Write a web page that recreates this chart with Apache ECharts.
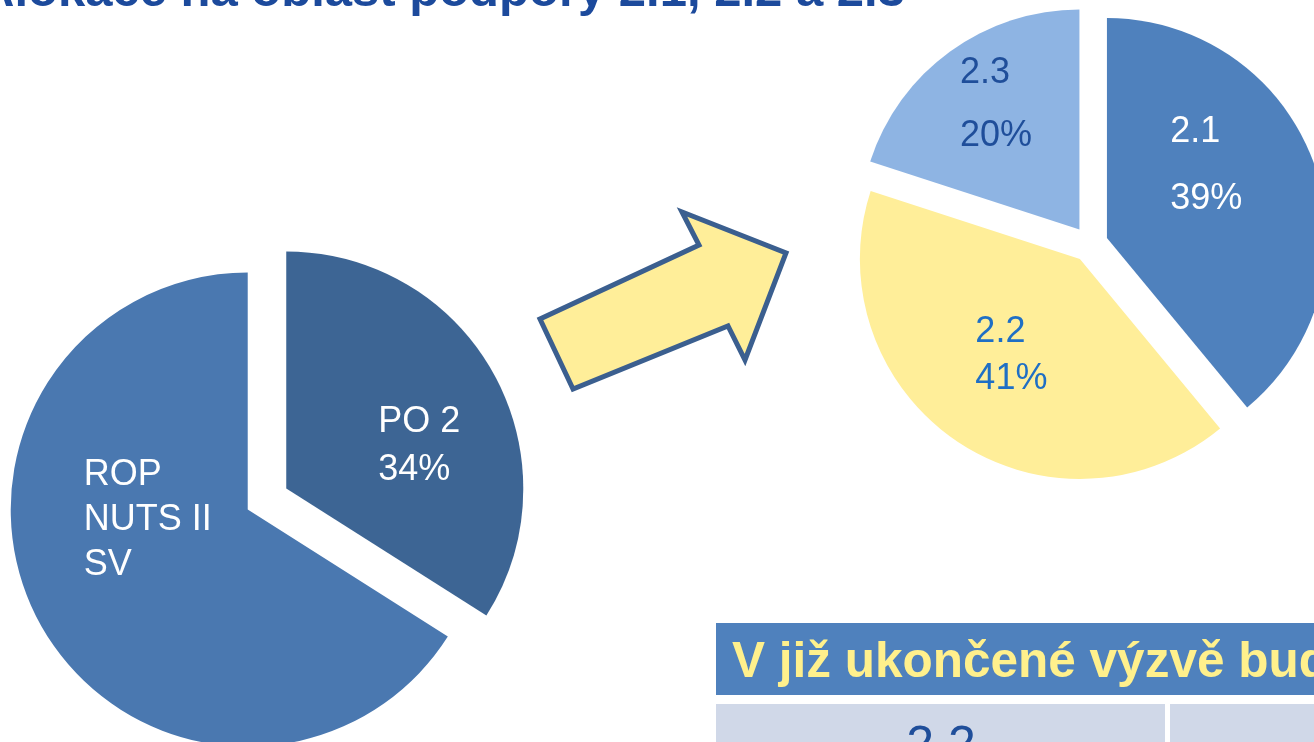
<!DOCTYPE html>
<html>
<head>
<meta charset="utf-8">
<script src="https://cdn.jsdelivr.net/npm/echarts@6/dist/echarts.min.js"></script>
<style>
  html, body { margin: 0; padding: 0; background: #fff; }
  #chart { width: 1314px; height: 742px; }
</style>
</head>
<body>
<div id="chart"></div>
<script>
// slide title (cut at top) and table text
const titleText = 'Alokace na oblast podpory 2.1, 2.2 a 2.3';
const tableHeader = 'V již ukončené výzvě budou';
const tableCell = '2.2';

// left pie: whole programme
const leftNames = ['PO 2', 'ROP\nNUTS II\nSV'];
const leftValues = [34, 66];
const leftShowPct = [true, false];

// right pie: split of PO 2
const rightNames = ['2.1', '2.2', '2.3'];
const rightValues = [39, 41, 20];
const rightShowPct = [true, true, true];

const leftColors = ['#3d6594', '#4a78b0'];
const leftText = ['#ffffff', '#ffffff'];
const leftLine = [48, 45];
const leftBox = [85, 135];
const leftShift = [[28, 16], [10, -48]];

const rightColors = ['#4f81bd', '#ffee99', '#8eb4e3'];
const rightText = ['#ffffff', '#1f6fc5', '#1f4e9a'];
const rightLine = [67, 47, 63];
const rightBox = [80, 80, 80];
const rightShift = [[-3, -34], [-1, 3], [-13, -33]];

const FONT = 'Liberation Sans, Arial, sans-serif';

function buildData(names, values, showPct, colors, texts, lines, boxes) {
  return names.map((n, i) => ({
    name: n,
    value: values[i],
    selected: true,
    showPct: showPct[i],
    itemStyle: { color: colors[i] },
    label: {
      rich: {
        t: {
          color: texts[i],
          fontSize: 36,
          fontFamily: FONT,
          lineHeight: lines[i],
          width: boxes[i],
          align: 'left'
        }
      }
    }
  }));
}

function fmt(p) {
  let lines = p.name.split('\n');
  if (p.data.showPct) lines = lines.concat([Math.round(p.percent) + '%']);
  return lines.map(s => '{t|' + s + '}').join('\n');
}

function pieSeries(center, radius, offset, data, shifts) {
  return {
    type: 'pie',
    center: center,
    radius: radius,
    startAngle: 90,
    clockwise: true,
    selectedMode: 'multiple',
    selectedOffset: offset,
    avoidLabelOverlap: false,
    silent: true,
    label: { show: true, position: 'inside', formatter: fmt },
    labelLine: { show: false },
    labelLayout: function (p) {
      const s = shifts[p.dataIndex];
      return { dx: s[0], dy: s[1] };
    },
    emphasis: { disabled: true },
    data: data
  };
}

const chart = echarts.init(document.getElementById('chart'), null, { renderer: 'canvas' });

const option = {
  animation: false,
  backgroundColor: '#ffffff',
  series: [
    pieSeries([267, 499], 237, 22,
      buildData(leftNames, leftValues, leftShowPct, leftColors, leftText, leftLine, leftBox), leftShift),
    pieSeries([1090, 244], 220, 18,
      buildData(rightNames, rightValues, rightShowPct, rightColors, rightText, rightLine, rightBox), rightShift)
  ],
  graphic: [
    {
      type: 'text', x: -21, y: -8,
      style: {
        text: titleText, fill: '#1c4a9c', fontSize: 49, fontWeight: 'bold',
        fontFamily: FONT, verticalAlign: 'middle'
      }
    },
    {
      type: 'polygon',
      shape: {
        points: [[573, 389], [540, 319], [699, 245], [682, 212], [786, 253], [745, 360], [728, 326]]
      },
      style: { fill: '#ffee99', stroke: '#3b5f8f', lineWidth: 5, lineJoin: 'miter' }
    },
    { type: 'rect', shape: { x: 716, y: 623, width: 600, height: 72 }, style: { fill: '#4f81bd' } },
    {
      type: 'text', x: 732, y: 663,
      style: {
        text: tableHeader, fill: '#fff08c', fontSize: 49.5, fontWeight: 'bold',
        fontFamily: FONT, verticalAlign: 'middle'
      }
    },
    { type: 'rect', shape: { x: 716, y: 704, width: 449, height: 40 }, style: { fill: '#d0d8e8' } },
    { type: 'rect', shape: { x: 1170, y: 704, width: 150, height: 40 }, style: { fill: '#d0d8e8' } },
    {
      type: 'text', x: 941, y: 747,
      style: {
        text: tableCell, fill: '#1f4e9a', fontSize: 50,
        fontFamily: FONT, align: 'center', verticalAlign: 'middle'
      }
    }
  ]
};

chart.setOption(option);
</script>
</body>
</html>
